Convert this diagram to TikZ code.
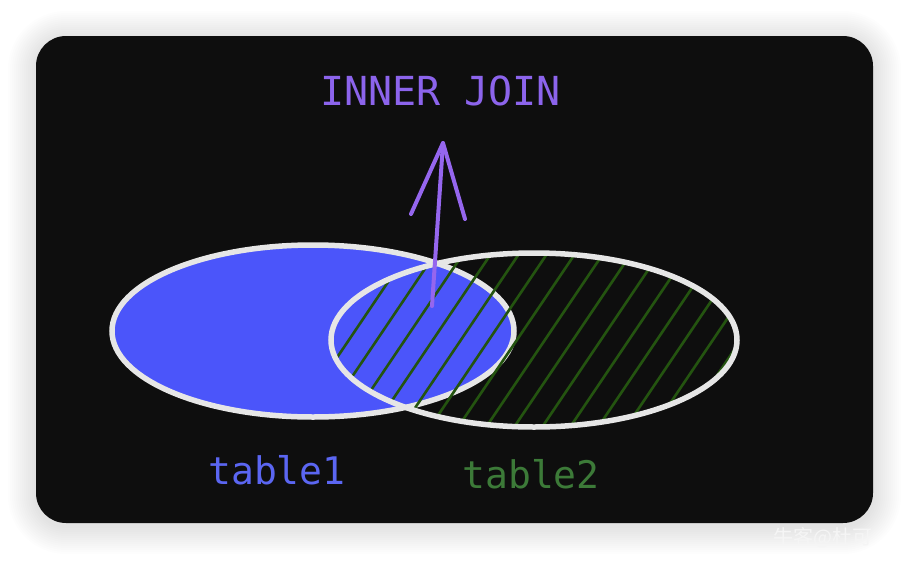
\documentclass[tikz,border=0pt]{standalone}
\usepackage{fontspec}
\newfontfamily\monof{DejaVu Sans Mono}
\newfontfamily\cjk{Noto Sans CJK SC}
\definecolor{bgblack}{HTML}{0E0E0E}
\definecolor{bluefill}{HTML}{4B55FA}
\definecolor{outl}{HTML}{E6E6E6}
\definecolor{hatchgreen}{HTML}{245410}
\definecolor{arrowpurple}{HTML}{9566EE}
\definecolor{titlepurple}{HTML}{8C64EC}
\definecolor{tonecolor}{HTML}{5B66F2}
\definecolor{ttwocolor}{HTML}{3C7A38}
\tikzset{
  outline/.style={draw=outl, line width=5.5pt},
  hatchline/.style={draw=hatchgreen, line width=2.6pt, line cap=round},
  purpleline/.style={draw=arrowpurple, line width=4pt, line cap=round, line join=round},
  monolabel/.style={font=\monof\fontsize{38}{38}\selectfont, anchor=base, inner sep=0pt},
}
\begin{document}
\begin{tikzpicture}[x=1pt,y=-1pt]
\useasboundingbox (0,0) rectangle (910,560);
\fill[white] (0,0) rectangle (910,560);
% shadow
\foreach \i in {1,...,14}
  \fill[black, opacity=0.009, rounded corners=30+2*\i] (36-2*\i,36-2*\i+3) rectangle (873+2*\i,523+2*\i+3);
% panel
\fill[bgblack, rounded corners=30] (36,36) rectangle (873,523);
% table1 ellipse
\fill[bluefill] (313,331) ellipse [x radius=201, y radius=86];
\draw[outline] (313,331) ellipse [x radius=201, y radius=86];
% table2 hatch
\begin{scope}
  \clip (534,340) ellipse [x radius=203, y radius=87];
  \foreach \k in {0,...,18}
    \draw[hatchline] (250+28*\k,445) -- ++(135,-200);
\end{scope}
\draw[outline] (534,340) ellipse [x radius=203, y radius=87];
% arrow
\coordinate (tail) at (432,306);
\coordinate (tip) at (443,143);
\coordinate (hl) at (411,214);
\coordinate (hr) at (465,219);
\draw[purpleline] (tail) -- (tip);
\draw[purpleline] (hl) -- (tip) -- (hr);
% labels
\node[monolabel, text=titlepurple, font=\monof\fontsize{40}{40}\selectfont] (title) at (440.5,105.5) {INNER JOIN};
\node[monolabel, text=tonecolor] (t1) at (277,484) {table1};
\node[monolabel, text=ttwocolor] (t2) at (531,488) {table2};
\node[anchor=west, text=white!96!black, font=\cjk\fontsize{20}{20}\selectfont] (wm) at (770,538) {牛客@杜可};
\end{tikzpicture}
\end{document}
